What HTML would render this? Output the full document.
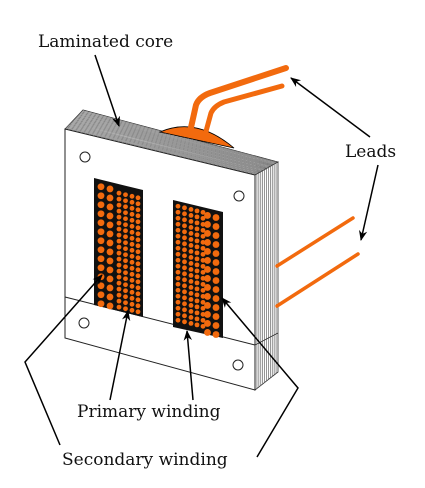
<!DOCTYPE html>
<html><head><meta charset="utf-8"><style>
body{margin:0;background:#fff}
svg{display:block}
text{font-family:"DejaVu Serif","Liberation Serif",serif;font-size:17px;fill:#111}
</style></head><body>
<svg id="s" width="425" height="488" viewBox="0 0 425 488">
<defs>
<marker id="ah" viewBox="0 0 10 10" refX="9" refY="5" markerWidth="7" markerHeight="7" orient="auto"><path d="M0,1 L10,5 L0,9 L3,5 z" fill="#000"/></marker>
</defs>
<!-- top face -->
<polygon points="65,129 83,110 278,162 255,175" fill="#fff" stroke="#333" stroke-width="0.8"/>
<g id="topLam" stroke="#666" stroke-width="0.7"></g>
<!-- leads top -->
<path d="M160,132 Q196,116 234,148 Z" fill="#f26a0e" stroke="#000" stroke-width="0.8"/>
<path d="M190,132 L196,105 Q199,97 210,93 L286,68" fill="none" stroke="#f26a0e" stroke-width="6" stroke-linecap="round"/>
<path d="M205,135 L211,113 Q214,106 224,102 L282,86" fill="none" stroke="#f26a0e" stroke-width="5" stroke-linecap="round"/>
<!-- right face -->
<polygon points="255,175 278,162 278,372 255,390" fill="#fff" stroke="#333" stroke-width="0.8"/>
<g id="sideLam" stroke="#666" stroke-width="0.7"></g>
<line x1="255" y1="345" x2="278" y2="333" stroke="#333" stroke-width="0.8"/>
<!-- front face -->
<polygon points="65,129 255,175 255,390 65,338" fill="#fff" stroke="#222" stroke-width="1"/>
<line x1="65" y1="297" x2="255" y2="345" stroke="#222" stroke-width="1"/>
<circle cx="85" cy="157" r="5" fill="#fff" stroke="#222"/>
<circle cx="239" cy="196" r="5" fill="#fff" stroke="#222"/>
<circle cx="84" cy="323" r="5" fill="#fff" stroke="#222"/>
<circle cx="238" cy="365" r="5" fill="#fff" stroke="#222"/>
<!-- windows -->
<polygon points="94,178 143,190 143,317 94,305" fill="#111"/>
<polygon points="173,200 223,212 223,338 173,327" fill="#111"/>
<g id="dots"></g>
<!-- right leads -->
<line x1="277" y1="266" x2="353" y2="218" stroke="#f26a0e" stroke-width="3.5" stroke-linecap="round"/>
<line x1="277" y1="306" x2="358" y2="254" stroke="#f26a0e" stroke-width="3.5" stroke-linecap="round"/>
<!-- arrows -->
<g fill="none" stroke="#000" stroke-width="1.5">
<line x1="95" y1="55" x2="119" y2="126" marker-end="url(#ah)"/>
<line x1="370" y1="137" x2="291" y2="78" marker-end="url(#ah)"/>
<line x1="378" y1="165" x2="361" y2="240" marker-end="url(#ah)"/>
<polyline points="60,445 25,362 102,275" marker-end="url(#ah)"/>
<polyline points="257,457 298,388 222,298" marker-end="url(#ah)"/>
<line x1="110" y1="400" x2="128" y2="311" marker-end="url(#ah)"/>
<line x1="193" y1="400" x2="187" y2="331" marker-end="url(#ah)"/>
</g>
<text x="38" y="47">Laminated core</text>
<text x="345" y="157">Leads</text>
<text x="77" y="417">Primary winding</text>
<text x="62" y="465">Secondary winding</text>
</svg>
<script>
const NS='http://www.w3.org/2000/svg';
function L(p,x1,y1,x2,y2,name){
  const l=document.createElementNS(NS,'line');
  l.setAttribute('x1',x1);l.setAttribute('y1',y1);l.setAttribute('x2',x2);l.setAttribute('y2',y2);
  
  
  p.appendChild(l);
}
const tl=document.getElementById('topLam');
for(let i=1;i<20;i++){const t=i/20;
  L(tl,65+18*t,129-19*t,255+23*t,175-13*t,'lamination-edge');}
const sl=document.getElementById('sideLam');
for(let i=1;i<12;i++){const t=i/12;
  L(sl,255+23*t,175-13*t,255+23*t,390-18*t,'lamination-edge');}
const g=document.getElementById('dots');
function col(x,x0,y0,n,step,r){
  for(let i=0;i<n;i++){
    const c=document.createElementNS(NS,'circle');
    c.setAttribute('cx',x);
    c.setAttribute('cy',y0+(x-x0)*0.245+i*step);
    c.setAttribute('r',r);
    c.setAttribute('fill','#f26a0e');
    
    
    g.appendChild(c);
  }
}
[101,110].forEach(x=>col(x,94,185,14,9,3.4));
[119,125.5,132,138].forEach(x=>col(x,94,187,20,6,2.4));
[178,184.5,191,197,203].forEach(x=>col(x,173,205,20,6,2.4));
[207.5,216].forEach(x=>col(x,173,207,14,9,3.4));
</script>
</body></html>
